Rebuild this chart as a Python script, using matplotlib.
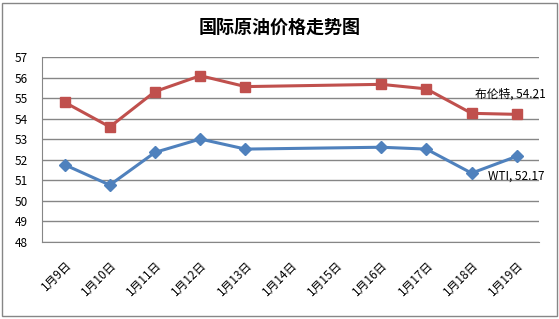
import matplotlib
matplotlib.use("Agg")
import matplotlib.pyplot as plt
import numpy as np
from matplotlib.patches import Rectangle

plt.rcParams['font.family'] = ['Noto Sans CJK SC', 'DejaVu Sans']

dates = ['1月9日', '1月10日', '1月11日', '1月12日', '1月13日', '1月14日',
         '1月15日', '1月16日', '1月17日', '1月18日', '1月19日']
brent = [54.80, 53.60, 55.32, 56.09, 55.56, None, None, 55.67, 55.45, 54.26, 54.21]
wti = [51.76, 50.77, 52.36, 53.01, 52.52, None, None, 52.61, 52.52, 51.35, 52.17]

fig = plt.figure(figsize=(5.59, 3.19), dpi=100)
ax = fig.add_axes([0.0751, 0.2414, 0.8899, 0.5799])

def pts(vals):
    x = [i for i, v in enumerate(vals) if v is not None]
    y = [v for v in vals if v is not None]
    return x, y

bx, by = pts(brent)
wx, wy = pts(wti)
ax.plot(bx, by, color='#C0504D', lw=2.2, marker='s', ms=7, zorder=3)
ax.plot(wx, wy, color='#4F81BD', lw=2.2, marker='D', ms=6, zorder=3)

ax.annotate('布伦特, %.2f' % brent[-1], (bx[-1], by[-1]), xytext=(-30, 14.5),
            textcoords='offset points', fontsize=8.5, color='black', va='center')
ax.annotate('WTI, %.2f' % wti[-1], (wx[-1], wy[-1]), xytext=(-21, -14),
            textcoords='offset points', fontsize=8.5, color='black', va='center')

ax.set_xlim(-0.5, len(dates) - 0.5)
ax.set_ylim(48, 57)
ax.set_yticks(range(48, 58))
ax.yaxis.grid(True, color='#868686', lw=1)
ax.set_axisbelow(True)
ax.set_xticks(range(len(dates)))
ax.set_xticklabels(dates, rotation=45, ha='right', rotation_mode='anchor', fontsize=8.5)
ax.tick_params(axis='both', length=0, labelsize=8.5)
ax.tick_params(axis='x', pad=12)
ax.tick_params(axis='y', pad=10)
for s in ['top', 'right']:
    ax.spines[s].set_visible(False)
ax.spines['left'].set_color('#868686')
ax.spines['bottom'].set_color('#868686')

fig.text(0.5, 0.915, '国际原油价格走势图', ha='center', va='center',
         fontsize=13, fontweight='bold')
fig.patches.append(Rectangle((0.004, 0.008), 0.992, 0.984, transform=fig.transFigure,
                             fill=False, edgecolor='#868686', lw=1))

fig.savefig('out.png', dpi=100)
